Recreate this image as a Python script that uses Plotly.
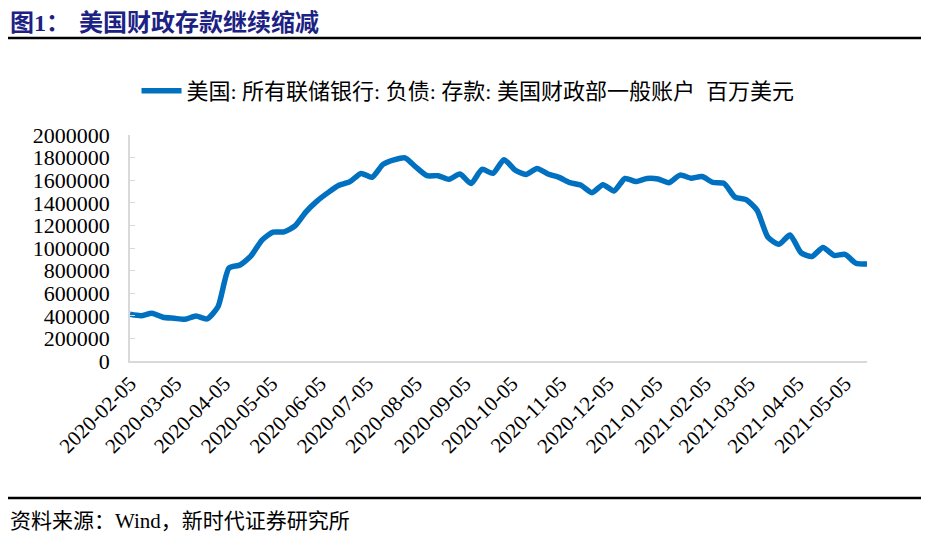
import plotly.graph_objects as go
import pandas as pd

start_date = "2020-02-05"
n_weeks = 68
values = [
    413000, 400000, 422000, 387000, 378000, 369000, 398000, 372000, 480000, 823000,
    850000, 930000, 1070000, 1140000, 1142000, 1195000, 1320000, 1415000, 1490000, 1555000,
    1587000, 1660000, 1626000, 1740000, 1780000, 1798000, 1715000, 1640000, 1640000, 1608000,
    1655000, 1570000, 1696000, 1661000, 1782000, 1690000, 1650000, 1703000, 1655000, 1625000,
    1578000, 1555000, 1490000, 1560000, 1505000, 1615000, 1588000, 1615000, 1610000, 1578000,
    1645000, 1618000, 1632000, 1580000, 1572000, 1450000, 1428000, 1335000, 1095000, 1033000,
    1115000, 958000, 925000, 1005000, 935000, 944000, 865000, 858000,
]
dates = pd.date_range(start_date, periods=n_weeks, freq="7D")

tick_dates = ["2020-02-05", "2020-03-05", "2020-04-05", "2020-05-05", "2020-06-05",
              "2020-07-05", "2020-08-05", "2020-09-05", "2020-10-05", "2020-11-05",
              "2020-12-05", "2021-01-05", "2021-02-05", "2021-03-05", "2021-04-05",
              "2021-05-05"]
y_ticks = [0, 200000, 400000, 600000, 800000, 1000000, 1200000, 1400000,
           1600000, 1800000, 2000000]

series_name = "美国: 所有联储银行: 负债: 存款: 美国财政部一般账户  百万美元"
title_label = "图1："
title_text = "美国财政存款继续缩减"
source_text = "资料来源：Wind，新时代证券研究所"

# page body has an 8px default margin; build the figure so it fits the window
OFF = 8
W, H = 929 - OFF, 535 - OFF
L, R, T, B = 130 - OFF, 62, 135 - OFF, 174
pw, ph = W - L - R, H - T - B


def px(x):
    return (x - OFF - L) / pw


def py(y):
    return (H - B - (y - OFF)) / ph


serif = "Liberation Serif, Noto Sans CJK SC"

fig = go.Figure()
fig.add_trace(go.Scatter(
    x=dates, y=values, mode="lines", name=series_name,
    line=dict(color="#0070C0", width=5.5, shape="spline", smoothing=0.6),
))

fig.update_layout(
    width=W, height=H,
    margin=dict(l=L, r=R, t=T, b=B, autoexpand=False),
    paper_bgcolor="white", plot_bgcolor="white",
    showlegend=True,
    legend=dict(orientation="h", xref="container", yref="container",
                x=(468 - OFF) / W, y=(H - (91 - OFF)) / H, xanchor="center", yanchor="middle",
                font=dict(family=serif, size=22, color="#000000"),
                itemwidth=40, bgcolor="rgba(0,0,0,0)"),
    xaxis=dict(
        type="date", range=[dates[0], dates[-1]], automargin=False,
        tickvals=tick_dates, ticktext=tick_dates, tickangle=-45,
        showgrid=False, showline=True, linecolor="#D9D9D9", linewidth=2,
        ticks="", tickfont=dict(family=serif, size=21, color="#000000"),
        zeroline=False,
    ),
    yaxis=dict(
        range=[0, 2000000], tickvals=y_ticks, ticktext=[str(v) for v in y_ticks],
        automargin=False,
        showgrid=False, showline=True, linecolor="#D9D9D9", linewidth=1.5,
        ticks="inside", ticklen=5, tickcolor="#D9D9D9",
        tickfont=dict(family=serif, size=22, color="#000000"),
        zeroline=False, ticklabelstandoff=14,
    ),
    shapes=[
        dict(type="line", xref="paper", yref="paper", x0=px(OFF), x1=px(922), y0=py(38), y1=py(38),
             line=dict(color="#000000", width=2.5)),
        dict(type="line", xref="paper", yref="paper", x0=px(OFF), x1=px(922), y0=py(498), y1=py(498),
             line=dict(color="#000000", width=2.5)),
    ],
    annotations=[
        dict(text="<b>" + title_label + "</b>", xref="paper", yref="paper", x=px(OFF + 1), y=py(OFF + 1),
             xanchor="left", yanchor="top", showarrow=False, borderpad=0,
             font=dict(family=serif, size=24, color="#1C2283")),
        dict(text="<b>" + title_text + "</b>", xref="paper", yref="paper", x=px(78), y=py(OFF + 1),
             xanchor="left", yanchor="top", showarrow=False, borderpad=0,
             font=dict(family=serif, size=24, color="#1C2283")),
        dict(text=source_text, xref="paper", yref="paper", x=px(OFF + 1), y=py(534),
             xanchor="left", yanchor="bottom", showarrow=False, borderpad=0,
             font=dict(family=serif, size=21, color="#000000")),
    ],
)

fig.write_html("out.html")
